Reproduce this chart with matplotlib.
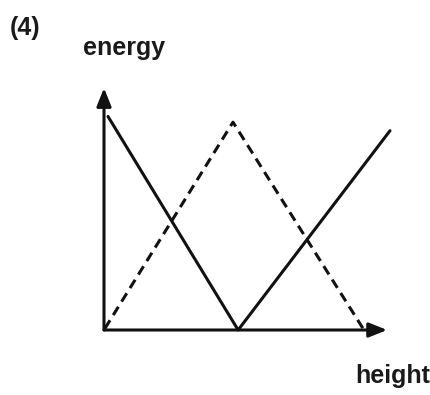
import matplotlib
matplotlib.use("Agg")
import matplotlib.pyplot as plt

# energy vs height sketch (arbitrary units)
solid_x = [0.14, 4.69, 10.0]
solid_y = [7.5, 0.0, 7.0]
dashed_x = [0.03, 4.51, 9.09]
dashed_y = [0.05, 7.3, 0.0]
x_axis_end = 9.9
y_axis_end = 8.5

W, H = 431, 395
fig = plt.figure(figsize=(W / 100, H / 100), dpi=100)
ax = fig.add_axes([104 / W, (H - 330) / H, 286 / W, 242 / H])
ax.set_xlim(0, 10)
ax.set_ylim(0, 8.5)
ax.axis("off")

arrow = dict(arrowstyle="-|>,head_length=0.55,head_width=0.22", color="#111111",
             lw=2.2, shrinkA=0, shrinkB=0, mutation_scale=20)
ax.annotate("", xy=(x_axis_end, 0), xytext=(0, 0), arrowprops=arrow, annotation_clip=False)
ax.annotate("", xy=(0, y_axis_end), xytext=(0, 0), arrowprops=arrow, annotation_clip=False)

ax.plot(solid_x, solid_y, color="#111111", lw=2.2, clip_on=False, solid_capstyle="round")
ax.plot(dashed_x, dashed_y, color="#111111", lw=2.2, clip_on=False,
        linestyle=(0, (3.2, 2.0)))

font = dict(family="Liberation Sans", weight="bold", color="#1a1a1a")
fig.text(10 / W, 1 - 28 / H, "(4)", fontsize=18, va="center", ha="left", **font)
fig.text(83 / W, 1 - 55 / H, "energy", fontsize=18, va="baseline", ha="left", **font)
fig.text(355 / W, 1 - 383 / H, "height", fontsize=18, va="baseline", ha="left", **font)

fig.savefig("out.png", dpi=100, facecolor="white")
